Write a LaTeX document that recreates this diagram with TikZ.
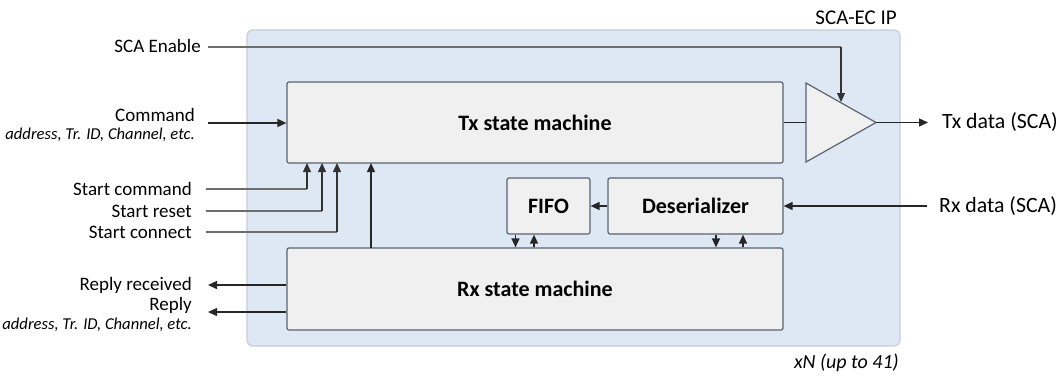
\documentclass[tikz,border=0pt]{standalone}
\usepackage{fontspec}
\setmainfont{Carlito}
\usetikzlibrary{arrows.meta}
\definecolor{ipfill}{HTML}{DEE8F4}
\definecolor{ipdraw}{HTML}{C8CDD5}
\definecolor{boxfill}{HTML}{F0F0F0}
\definecolor{boxdraw}{HTML}{5A6472}
\definecolor{thin}{HTML}{6E6E6E}
\tikzset{
  blk/.style={draw=boxdraw, fill=boxfill, line width=1.2pt, rounded corners=2pt, inner sep=0pt, font=\fontsize{22}{24}\selectfont\bfseries},
  lbl/.style={inner sep=0pt, font=\fontsize{19}{21}\selectfont, align=right},
  sublbl/.style={inner sep=0pt, font=\fontsize{16.6}{18}\selectfont\itshape},
  rlbl/.style={inner sep=0pt, font=\fontsize{21.8}{23}\selectfont, anchor=west},
  arr/.style={line width=1.4pt, draw=black!85, -{Triangle[length=9pt,width=8pt]}},
  sig/.style={line width=1.1pt, draw=thin},
  sigarr/.style={sig, -{Triangle[length=9pt,width=8pt]}, draw=black!80}
}
\begin{document}
\begin{tikzpicture}[x=1pt,y=-1pt]
\useasboundingbox (0,0) rectangle (1064,376);
% IP container
\draw[fill=ipfill, draw=ipdraw, line width=1.2pt, rounded corners=6pt] (247,30) rectangle (900,346);
\node[inner sep=0pt, anchor=base east, font=\fontsize{21}{23}\selectfont] (iplabel) at (897,24) {SCA-EC IP};
\node[inner sep=0pt, anchor=east, font=\fontsize{20}{22}\selectfont\itshape] (xn) at (899,363) {xN (up to 41)};

% blocks
\node[blk, minimum width=496pt, minimum height=81pt] (tx) at (535,122.5) {Tx state machine};
\node[blk, minimum width=496pt, minimum height=82pt] (rx) at (535,289) {Rx state machine};
\node[blk, minimum width=83pt, minimum height=56pt] (fifo) at (548.5,206) {FIFO};
\node[blk, minimum width=175pt, minimum height=56pt] (des) at (695.5,206) {Deserializer};

% amplifier
\coordinate (tril) at (806,122.5);
\coordinate (trit) at (806,83);
\coordinate (trib) at (806,162);
\coordinate (tria) at (876,122.5);
\coordinate (trien) at (841,102);
\draw[fill=boxfill, draw=boxdraw, line width=1.2pt, line join=miter] (trit) -- (tria) -- (trib) -- cycle;
\draw[line width=1.4pt, draw=black!85] (tx.east) -- (tril);

% right side
\node[rlbl] (txd) at (942,122.5) {Tx data (SCA)};
\node[rlbl] (rxd) at (939,206) {Rx data (SCA)};
\draw[arr] (tria) -- ([xshift=-14pt]txd.west);
\draw[arr] ([xshift=-12pt]rxd.west) -- (des.east);
\draw[arr] (des.west) -- (fifo.east);

% FIFO / Deserializer to Rx
\draw[arr] ([xshift=-33pt]fifo.south) -- ([xshift=-33pt]fifo.south |- rx.north);
\draw[arr] ([xshift=-14.5pt]fifo.south |- rx.north) -- ([xshift=-14.5pt]fifo.south);
\draw[arr] ([xshift=20.5pt]des.south) -- ([xshift=20.5pt]des.south |- rx.north);
\draw[arr] ([xshift=47.5pt]des.south |- rx.north) -- ([xshift=47.5pt]des.south);

% Rx to Tx
\draw[arr] (371,248) -- (371,163);

% left labels
\node[lbl, anchor=east] (en) at (201,46) {SCA Enable};
\node[lbl, anchor=east] (cmd) at (195,115) {Command};
\node[sublbl, anchor=east] (cmdsub) at (195,135) {address, Tr. ID, Channel, etc.};
\node[lbl, anchor=east] (sc) at (192,189) {Start command};
\node[lbl, anchor=east] (sr) at (192,211) {Start reset};
\node[lbl, anchor=east] (sn) at (192,232) {Start connect};
\node[lbl, anchor=east] (rr) at (192,285) {Reply received};
\node[lbl, anchor=east] (rp) at (192,305) {Reply};
\node[sublbl, anchor=east] (rpsub) at (192,325) {address, Tr. ID, Channel, etc.};

% SCA enable
\coordinate (enc) at (841,47);
\draw[sig] (208,47) -- (enc);
\draw[sigarr] (enc) -- (trien);

% Command
\draw[arr] (208,123) -- (tx.west |- 0,123);

% start signals
\draw[sig] (206,189) -- (307,189);
\draw[sigarr] (307,189) -- (307,163);
\draw[sig] (206,211) -- (322,211);
\draw[sigarr] (322,211) -- (322,163);
\draw[sig] (206,232) -- (337,232);
\draw[sigarr] (337,232) -- (337,163);

% replies
\draw[arr] (rx.west |- 0,285) -- (208,285);
\draw[arr] (rx.west |- 0,312) -- (208,312);
\end{tikzpicture}
\end{document}
